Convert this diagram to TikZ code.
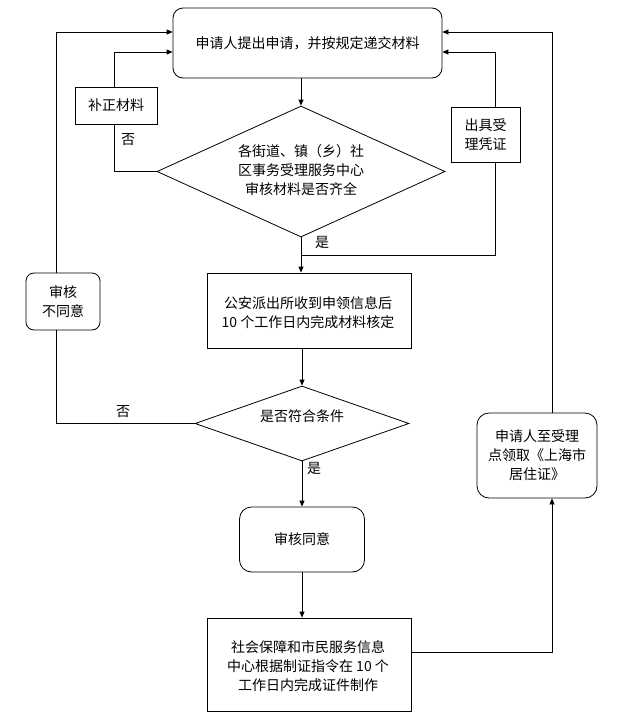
\documentclass[tikz,border=0pt]{standalone}
\usepackage{fontspec}
\setmainfont{Noto Sans CJK SC}
\usetikzlibrary{arrows.meta,shapes.geometric}
\begin{document}
\begin{tikzpicture}[x=1pt,y=-1pt,
  every node/.style={font=\fontsize{14}{19}\selectfont, inner sep=0pt, align=center},
  box/.style={draw, line width=0.8pt, minimum width=#1},
  rbox/.style={draw, line width=0.8pt, rounded corners=10pt, minimum width=#1},
  dia/.style={draw, line width=0.8pt, diamond, aspect=2.2},
  ln/.style={line width=0.8pt},
  arr/.style={line width=0.8pt, -{Triangle[length=6pt,width=5pt]}},
  lbl/.style={font=\fontsize{14}{16}\selectfont}
]
\useasboundingbox (0,0) rectangle (633,726);
\fill[white] (0,0) rectangle (633,726);

% boxes
\node[rbox=269pt, minimum height=70pt] (top) at (307.5,43) {申请人提出申请，并按规定递交材料};
\node[box=82pt, minimum height=37pt] (bz) at (116,105.5) {补正材料};
\node[box=69pt, minimum height=55pt] (cj) at (485.5,134.5) {出具受\\理凭证};
\node[dia, minimum width=288pt, minimum height=131pt] (d1) at (301,171.5) {};
\node (d1t) at (301,170) {各街道、镇（乡）社\\区事务受理服务中心\\审核材料是否齐全};
\node[box=204pt, minimum height=75pt] (ga) at (309,310.5) {};
\node (gat) at (308,312.5) {公安派出所收到申领信息后\\10 个工作日内完成材料核定};
\node[rbox=74pt, rounded corners=8pt, minimum height=57pt] (nobox) at (63,301.5) {审核\\不同意};
\node[dia, aspect=2.85, minimum width=214pt, minimum height=75pt] (d2) at (302,423.5) {};
\node (d2t) at (302,416) {是否符合条件};
\node[rbox=120pt, rounded corners=12pt, minimum height=85pt] (rec) at (537,455.5) {申请人至受理\\点领取《上海市\\居住证》};
\node[rbox=125pt, rounded corners=12pt, minimum height=65pt] (agree) at (302,539.5) {审核同意};
\node[box=204pt, minimum height=93pt] (sb) at (309,664.5) {};
\node (sbt) at (308,666) {社会保障和市民服务信息\\中心根据制证指令在 10 个\\工作日内完成证件制作};

% labels
\node[lbl] (l1) at (128,140) {否};
\node[lbl] (l2) at (322,242) {是};
\node[lbl] (l3) at (123,412) {否};
\node[lbl] (l4) at (314,468) {是};

% corner coordinates
\coordinate (xL) at (56,32);
\coordinate (xl) at (114,52);
\coordinate (xr) at (495,52);
\coordinate (xR) at (552,32);
\coordinate (yj) at (301,255);
\coordinate (xR2) at (552,652);

% connectors
\draw[arr] (top.south -| d1.north) -- (d1.north);
\draw[arr] (d1.south) -- (d1.south |- ga.north);
\draw[ln] (yj) -- (yj -| xr) -- (cj.south -| xr);
\draw[arr] (cj.north -| xr) -- (xr) -- (xr -| top.east);
\draw[ln] (d1.west) -- (d1.west -| xl) -- (bz.south -| xl);
\draw[arr] (bz.north -| xl) -- (xl) -- (xl -| top.west);
\draw[arr] (ga.south -| d2.north) -- (d2.north);
\draw[ln] (d2.west) -- (d2.west -| xL) -- (nobox.south -| xL);
\draw[arr] (nobox.north -| xL) -- (xL) -- (xL -| top.west);
\draw[arr] (d2.south) -- (d2.south |- agree.north);
\draw[arr] (agree.south) -- (agree.south |- sb.north);
\draw[arr] (sb.east |- xR2) -- (xR2) -- (xR2 |- rec.south);
\draw[arr] (rec.north -| xR) -- (xR) -- (xR -| top.east);
\end{tikzpicture}
\end{document}
